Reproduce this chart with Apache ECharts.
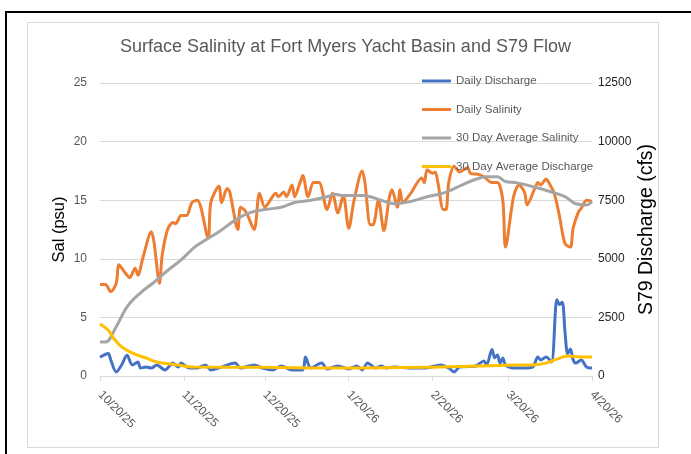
<!DOCTYPE html>
<html>
<head>
<meta charset="utf-8">
<script src="https://cdn.jsdelivr.net/npm/echarts@6/dist/echarts.min.js"></script>
<style>
html,body{margin:0;padding:0;background:#fff;}
#chart{width:691px;height:454px;}
</style>
</head>
<body>
<div id="chart"></div>
<script>
// ---- data (x = days since 10/20/25) ----
const tickDays = [0, 31, 61, 92, 123, 151, 182];
const tickLabels = ['10/20/25', '11/20/25', '12/20/25', '1/20/26', '2/20/26', '3/20/26', '4/20/26'];

const salDays = [0,2,4,6,7,9,11,13,14,16,19,20,22,23,25,27,28,30,32,34,36,40,41,44,45,47,48,51,52,54,57,59,61,63,65,66,68,69,71,72,74,75,77,79,81,84,86,88,90,92,94,97,98,100,101,103,105,107,108,110,111,112,115,119,120,121,123,124,125,127,128,129,131,133,136,137,140,142,145,147,149,150,153,155,157,158,161,162,163,165,166,168,170,172,174,175,177,178,180,182];
const salValues = [7.8,7.8,7.2,7.9,9.5,8.9,8.4,9.2,8.6,10.2,12.3,11.4,7.9,10.3,12.5,13.1,13.0,13.7,13.7,14.8,15.0,11.8,14.8,16.2,14.8,16.0,15.7,12.5,14.4,14.0,12.5,15.6,14.4,15.0,15.6,15.3,15.7,15.3,16.3,15.3,16.5,17.1,15.3,16.5,16.5,14.2,15.6,13.9,15.4,12.6,15.0,17.5,16.5,12.9,12.9,15.0,12.4,15.2,15.9,14.4,15.9,14.8,15.6,16.9,16.5,17.6,17.3,17.4,16.5,14.2,14.2,16.5,17.9,17.4,17.8,17.3,17.2,17.0,16.5,16.5,15.0,11.0,15.3,16.3,15.7,14.6,16.1,16.5,16.3,16.8,16.5,15.6,13.6,11.3,11.0,12.6,14.0,14.3,15.0,14.9];

const avgSalDays = [0,2,6,10,15,20,25,30,35,39,44,50,55,61,67,72,78,84,87,90,97,100,104,109,115,121,127,134,138,143,147,150,154,161,167,172,176,180,182];
const avgSalValues = [2.9,2.9,4.2,5.9,7.1,8.0,9.0,9.9,11.0,11.6,12.3,13.3,13.9,14.2,14.4,14.8,15.0,15.3,15.5,15.4,15.4,15.3,15.0,14.7,14.9,15.3,15.6,16.3,16.7,17.0,17.0,16.6,16.5,16.1,15.7,15.3,14.7,14.6,14.9];

const qDays = [0,3,4,6,8,10,12,14,15,17,19,21,24,27,29,30,33,36,39,41,45,50,52,57,60,64,67,71,75,76,78,82,84,88,92,95,97,99,102,104,106,109,114,120,126,129,131,133,139,142,143,145,146,147,148,149,150,153,157,160,162,163,165,167,169,170,171,172,173,174,175,176,178,180,182];
const qValues = [800,960,680,170,470,880,470,600,340,380,340,470,260,550,380,550,340,340,470,260,380,550,340,470,340,260,430,260,260,810,340,550,300,430,300,430,260,550,340,430,340,380,340,340,470,340,170,380,430,640,470,1130,770,900,550,770,470,340,340,380,810,680,810,600,3250,3050,3150,1900,950,1150,700,550,680,380,340];

const avgQDays = [0,3,5,8,12,17,21,26,31,35,60,90,120,140,150,160,165,169,173,178,182];
const avgQValues = [2220,1960,1620,1240,980,770,600,510,430,380,370,340,370,430,460,470,550,720,850,810,810];

function pairs(days, vals) { return days.map((d, i) => [d, vals[i]]); }

const chart = echarts.init(document.getElementById('chart'), null, {renderer: 'canvas'});
const FONT = 'Liberation Sans';
const option = {
  backgroundColor: '#fff',
  animation: false,
  textStyle: {fontFamily: FONT},
  title: {
    text: 'Surface Salinity at Fort Myers Yacht Basin and S79 Flow',
    left: 'center', top: 33,
    textStyle: {fontFamily: FONT, fontSize: 18, fontWeight: 'normal', color: '#595959'}
  },
  legend: {
    orient: 'vertical', left: 422, top: 75, padding: 0,
    icon: 'rect', itemWidth: 29, itemHeight: 3, itemGap: 16.5,
    textStyle: {fontFamily: FONT, fontSize: 11.5, color: '#595959'},
    data: ['Daily Discharge', 'Daily Salinity', '30 Day Average Salinity', '30 Day Average Discharge']
  },
  graphic: [
    {type: 'line', shape: {x1: 5, y1: 12, x2: 691, y2: 12}, style: {stroke: '#000', lineWidth: 2}, silent: true},
    {type: 'line', shape: {x1: 6, y1: 11, x2: 6, y2: 454}, style: {stroke: '#000', lineWidth: 2}, silent: true},
    {type: 'rect', shape: {x: 27.5, y: 22.5, width: 631, height: 425}, style: {fill: 'none', stroke: '#d9d9d9', lineWidth: 1}, silent: true}
  ],
  grid: {left: 100, right: 99, top: 83, bottom: 78, containLabel: false},
  xAxis: {
    type: 'value',
    min: tickDays[0], max: tickDays[tickDays.length - 1],
    axisLine: {show: true, onZero: false, lineStyle: {color: '#d9d9d9', width: 1}},
    axisTick: {show: true, customValues: tickDays, length: 5, lineStyle: {color: '#d9d9d9'}},
    splitLine: {show: false},
    axisLabel: {
      customValues: tickDays,
      rotate: -45, margin: 17,
      fontFamily: FONT, fontSize: 12, color: '#595959',
      formatter: function (v) {
        const i = tickDays.indexOf(Math.round(v));
        return i >= 0 ? tickLabels[i] : '';
      }
    }
  },
  yAxis: [
    {
      type: 'value', min: 0, max: 25, interval: 5,
      name: 'Sal (psu)', nameLocation: 'middle', nameRotate: 90, nameGap: 32, nameMoveOverlap: false,
      nameTextStyle: {fontFamily: FONT, fontSize: 16.5, color: '#000'},
      axisLine: {show: false}, axisTick: {show: false},
      axisLabel: {fontFamily: FONT, fontSize: 12, color: '#595959', margin: 13},
      splitLine: {show: true, lineStyle: {color: '#d9d9d9', width: 1}}
    },
    {
      type: 'value', min: 0, max: 12500, interval: 2500, position: 'right',
      name: 'S79 Discharge (cfs)', nameLocation: 'middle', nameRotate: 90, nameGap: 45, nameMoveOverlap: false,
      nameTextStyle: {fontFamily: FONT, fontSize: 19.5, color: '#000'},
      axisLine: {show: false}, axisTick: {show: false},
      axisLabel: {fontFamily: FONT, fontSize: 12, color: '#262626', margin: 6, formatter: function (v) { return String(v); }},
      splitLine: {show: false}
    }
  ],
  series: [
    {
      name: 'Daily Discharge', type: 'line', yAxisIndex: 1,
      data: pairs(qDays, qValues), showSymbol: false, symbol: 'none', smooth: 0.3,
      lineStyle: {color: '#4472C4', width: 3}, itemStyle: {color: '#4472C4'}
    },
    {
      name: 'Daily Salinity', type: 'line', yAxisIndex: 0,
      data: pairs(salDays, salValues), showSymbol: false, symbol: 'none', smooth: 0.3,
      lineStyle: {color: '#ED7D31', width: 3}, itemStyle: {color: '#ED7D31'}
    },
    {
      name: '30 Day Average Salinity', type: 'line', yAxisIndex: 0,
      data: pairs(avgSalDays, avgSalValues), showSymbol: false, symbol: 'none', smooth: 0.4,
      lineStyle: {color: '#A5A5A5', width: 3}, itemStyle: {color: '#A5A5A5'}
    },
    {
      name: '30 Day Average Discharge', type: 'line', yAxisIndex: 1,
      data: pairs(avgQDays, avgQValues), showSymbol: false, symbol: 'none', smooth: 0.4,
      lineStyle: {color: '#FFC000', width: 3}, itemStyle: {color: '#FFC000'}
    }
  ]
};
chart.setOption(option);
</script>
</body>
</html>
